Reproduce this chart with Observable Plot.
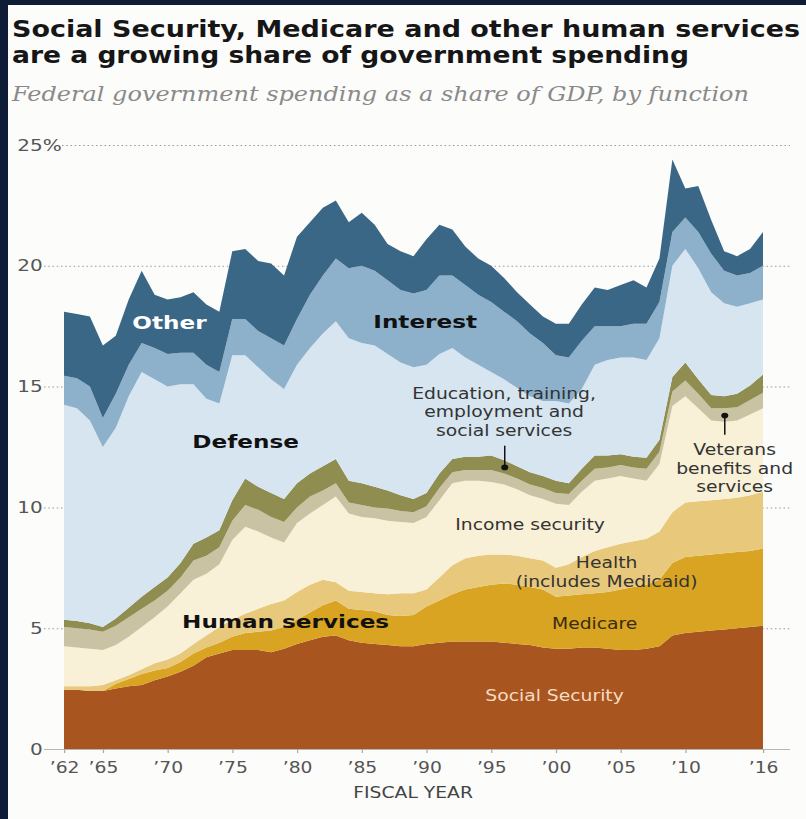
<!DOCTYPE html>
<html>
<head>
<meta charset="utf-8">
<script src="https://cdn.jsdelivr.net/npm/d3@7"></script>
<script src="https://cdn.jsdelivr.net/npm/@observablehq/plot@0.6"></script>
<style>
  html, body { margin: 0; padding: 0; width: 806px; height: 819px; overflow: hidden; background: #0f1c38; }
  #panel { position: absolute; left: 8px; top: 5px; right: 0; bottom: 0; background: #fcfcfb; }
  .t { position: absolute; left: 12px; margin: 0; white-space: nowrap; transform-origin: 0 0; }
  .title { font-family: "DejaVu Sans", sans-serif; font-weight: bold; font-size: 22.8px; line-height: 22.8px; color: #161616; }
  .sub { font-family: "DejaVu Serif", serif; font-style: italic; font-size: 20.5px; line-height: 20.5px; color: #8a8a8a; }
  #chart { position: absolute; left: 0; top: 120px; }
  #chart svg { transform: scaleX(1.25); transform-origin: 0 0; display: block; }
</style>
</head>
<body>
<div id="panel"></div>
<div class="t title" id="t1" style="top:18px">Social Security, Medicare and other human services</div>
<div class="t title" id="t2" style="top:44px">are a growing share of government spending</div>
<div class="t sub" id="t3" style="top:84px">Federal government spending as a share of GDP, by function</div>
<div id="chart"></div>
<script>
// ---- Data (percent of GDP) ----
const years = [1962,1963,1964,1965,1966,1967,1968,1969,1970,1971,
  1972,1973,1974,1975,1976,1977,1978,1979,1980,1981,
  1982,1983,1984,1985,1986,1987,1988,1989,1990,1991,
  1992,1993,1994,1995,1996,1997,1998,1999,2000,2001,
  2002,2003,2004,2005,2006,2007,2008,2009,2010,2011,
  2012,2013,2014,2015,2016];

const socialSecurity = [2.45,2.45,2.40,2.40,2.50,2.60,2.65,2.85,3.00,3.20,
  3.45,3.80,3.95,4.10,4.10,4.10,4.00,4.15,4.35,4.50,
  4.65,4.70,4.50,4.40,4.35,4.30,4.25,4.25,4.35,4.40,
  4.45,4.45,4.45,4.45,4.40,4.35,4.30,4.20,4.15,4.15,
  4.20,4.20,4.15,4.10,4.10,4.15,4.25,4.70,4.80,4.85,
  4.90,4.95,5.00,5.05,5.10];
const medicare = [0,0,0,0,0.20,0.30,0.45,0.40,0.35,0.40,
  0.50,0.40,0.45,0.55,0.70,0.75,0.90,0.90,1.00,1.15,
  1.30,1.45,1.30,1.35,1.35,1.25,1.25,1.30,1.55,1.75,
  1.95,2.15,2.25,2.35,2.45,2.45,2.40,2.40,2.15,2.20,
  2.20,2.25,2.35,2.50,2.60,2.65,2.75,3.00,3.15,3.15,
  3.15,3.15,3.15,3.15,3.20];
const health = [0.15,0.15,0.20,0.25,0.15,0.15,0.20,0.30,0.35,0.35,
  0.40,0.50,0.65,0.70,0.80,0.95,1.10,1.10,1.15,1.15,
  1.05,0.75,0.75,0.75,0.75,0.85,0.95,0.90,0.70,0.95,
  1.20,1.30,1.30,1.25,1.20,1.20,1.20,1.20,1.20,1.30,
  1.55,1.75,1.85,1.90,1.90,1.90,2.00,2.10,2.25,2.25,
  2.25,2.25,2.25,2.30,2.35];
const incomeSecurity = [1.65,1.60,1.55,1.45,1.45,1.60,1.75,1.90,2.20,2.50,
  2.65,2.55,2.60,3.30,3.60,3.20,2.75,2.40,2.85,2.95,
  3.10,3.55,3.20,3.10,3.10,3.05,2.95,2.90,3.00,3.20,
  3.40,3.20,3.10,3.00,2.90,2.75,2.60,2.55,2.65,2.45,
  2.70,2.90,2.85,2.80,2.60,2.40,2.80,4.40,4.40,3.85,
  3.30,3.20,3.20,3.35,3.45];
const veterans = [0.80,0.80,0.80,0.75,0.80,0.80,0.75,0.70,0.65,0.65,
  0.80,0.75,0.70,0.80,0.90,0.90,0.85,0.85,0.65,0.70,
  0.60,0.55,0.45,0.50,0.45,0.50,0.45,0.45,0.45,0.50,
  0.45,0.45,0.45,0.50,0.45,0.45,0.45,0.45,0.45,0.45,
  0.45,0.50,0.45,0.45,0.45,0.50,0.50,0.60,0.65,0.60,
  0.50,0.55,0.55,0.60,0.65];
const education = [0.30,0.30,0.25,0.20,0.30,0.40,0.50,0.55,0.55,0.60,
  0.70,0.75,0.70,0.85,1.10,0.95,1.00,0.95,1.00,0.95,
  1.00,1.00,0.90,0.90,0.85,0.75,0.65,0.55,0.55,0.60,
  0.55,0.55,0.55,0.60,0.55,0.50,0.50,0.50,0.50,0.45,
  0.50,0.55,0.50,0.45,0.45,0.45,0.50,0.60,0.75,0.60,
  0.55,0.50,0.55,0.60,0.75];
const defense = [8.90,8.80,8.40,7.45,7.90,8.75,9.30,8.60,7.90,7.40,
  6.60,5.75,5.25,6.00,5.10,4.95,4.70,4.55,4.90,5.20,
  5.50,5.70,5.90,5.80,5.85,5.65,5.50,5.45,5.30,4.95,
  4.60,4.10,3.80,3.45,3.35,3.25,3.15,3.10,3.30,3.30,
  3.30,3.75,3.95,4.00,4.10,4.05,4.20,4.60,4.70,4.60,
  4.25,3.85,3.60,3.40,3.10];
const interest = [1.20,1.25,1.40,1.20,1.40,1.30,1.20,1.30,1.35,1.30,
  1.30,1.40,1.30,1.50,1.50,1.50,1.70,1.80,1.90,2.20,
  2.40,2.60,2.90,3.20,3.10,3.05,3.00,3.05,3.10,3.25,
  3.00,3.00,2.90,2.90,2.80,2.75,2.60,2.40,1.90,1.90,
  2.00,1.60,1.40,1.30,1.40,1.50,1.50,1.40,1.30,1.50,
  1.60,1.35,1.30,1.25,1.40];
const other = [2.65,2.65,2.90,3.00,2.40,2.70,3.00,2.20,2.25,2.30,
  2.50,2.50,2.50,2.80,2.90,2.90,3.10,2.90,3.40,3.00,
  2.80,2.40,1.90,2.20,1.90,1.50,1.60,1.55,2.10,2.10,
  1.90,1.60,1.50,1.50,1.40,1.20,1.20,1.10,1.30,1.40,
  1.50,1.60,1.50,1.70,1.80,1.50,1.80,3.00,1.20,1.90,
  1.40,0.80,0.80,1.00,1.40];

// bottom-to-top stacking order
const seriesNames = ["Social Security","Medicare","Health","Income security",
  "Veterans benefits and services","Education, training, employment and social services",
  "Defense","Interest","Other"];
const seriesValues = [socialSecurity, medicare, health, incomeSecurity, veterans, education, defense, interest, other];
const seriesColors = ["#a9551f","#d8a421","#e8c87a","#f8f0d7","#c9c3a4","#8f8d4f","#d6e5f0","#8db0cb","#3b6786"];

const yTicks = [0,5,10,15,20,25];
const xTicks = [1962,1965,1970,1975,1980,1985,1990,1995,2000,2005,2010,2016];

const labels = [
  {text:"Other", year:1970.1, value:17.7, bold:true, color:"#ffffff"},
  {text:"Interest", year:1989.85, value:17.76, bold:true, color:"#111111"},
  {text:"Defense", year:1975.98, value:12.79, bold:true, color:"#111111"},
  {text:"Human services", year:1979.07, value:5.34, bold:true, color:"#111111"},
  {text:"Education, training,\nemployment and\nsocial services", year:1995.95, value:13.99, bold:false, color:"#333333"},
  {text:"Income security", year:1997.96, value:9.35, bold:false, color:"#333333"},
  {text:"Health\n(includes Medicaid)", year:2003.87, value:7.37, bold:false, color:"#333333"},
  {text:"Medicare", year:2002.95, value:5.22, bold:false, color:"#3a2c10"},
  {text:"Social Security", year:1999.85, value:2.24, bold:false, color:"#f6dcc4"},
  {text:"Veterans\nbenefits and\nservices", year:2013.76, value:11.67, bold:false, color:"#333333"}
];
const pointers = [
  {series:"Education, training, employment and social services", year:1996, gap:0.9},
  {series:"Veterans benefits and services", year:2013, gap:-0.8}
];

// ---- Build table ----
const rows = [];
years.forEach((yr, i) => {
  seriesNames.forEach((name, k) => rows.push({year: yr, fn: name, value: seriesValues[k][i]}));
});
const pointerRows = pointers.map(p => {
  const i = years.indexOf(p.year);
  const k = seriesNames.indexOf(p.series);
  let base = 0;
  for (let j = 0; j < k; j++) base += seriesValues[j][i];
  const mid = base + seriesValues[k][i] / 2;
  return {year: p.year, mid, end: mid + p.gap};
});

// ---- Layout (svg is stretched horizontally by S) ----
const S = 1.25;
const TOP = 120;
const W = 806 / S;
const H = 699;
const px = v => v / S;

const chart = Plot.plot({
  width: W,
  height: H,
  marginLeft: px(44),
  marginRight: W - px(790),
  marginTop: 0,
  marginBottom: H - (749 - TOP),
  x: {domain: [1962, 2016], range: [px(64), px(763)]},
  y: {domain: [0, 25], range: [749 - TOP, 145 - TOP]},
  color: {domain: seriesNames, range: seriesColors},
  style: {background: "transparent", fontFamily: "DejaVu Sans, sans-serif", color: "#555", overflow: "visible"},
  marks: [
    Plot.ruleY(yTicks.filter(d => d > 0 && d < 25), {stroke: "#9a9a9a", strokeDasharray: "1.2,2.2"}),
    Plot.ruleY(yTicks.filter(d => d === 25), {stroke: "#9a9a9a", strokeDasharray: "1.2,2.2", insetLeft: px(18)}),
    Plot.areaY(rows, {x: "year", y: "value", fill: "fn", order: seriesNames, curve: "linear"}),
    Plot.ruleY([0], {stroke: "#b5b5b5"}),
    Plot.axisY({ticks: yTicks, tickSize: 0, tickPadding: px(44) - px(42), fontSize: 16, fill: "#555", label: null}),
    Plot.text(yTicks.filter(d => d === 25), {y: d => d, text: () => "%", frameAnchor: "left", textAnchor: "start", dx: -px(2), fontSize: 16, fill: "#555"}),
    Plot.axisX({ticks: xTicks, tickFormat: d => "\u2019" + String(d).slice(2), tickSize: 4, tickPadding: 9, fontSize: 15, stroke: "#aaa", fill: "#555", label: null}),
    Plot.text(["FISCAL YEAR"], {frameAnchor: "bottom", text: d => d, lineAnchor: "top", dy: 38, dx: -px(4.5), fontSize: 15, fill: "#444"}),
    ...labels.map(l => Plot.text([l], {
      x: "year", y: "value", text: "text",
      fontSize: l.bold ? 18.5 : 15, fontWeight: l.bold ? "bold" : "normal",
      fill: l.color, lineHeight: 1.25
    })),
    Plot.link(pointerRows, {x1: "year", x2: "year", y1: "mid", y2: "end", stroke: "#111", strokeWidth: 1.2}),
    Plot.dot(pointerRows, {x: "year", y: "mid", r: 2.8, fill: "#111"})
  ]
});
document.getElementById("chart").appendChild(chart);

// stretch title lines to the reference widths
function fit(id, target) {
  const el = document.getElementById(id);
  const w = el.getBoundingClientRect().width;
  el.style.transform = "scaleX(" + (target / w) + ")";
}
fit("t1", 788);
fit("t2", 677);
fit("t3", 737);
</script>
</body>
</html>
